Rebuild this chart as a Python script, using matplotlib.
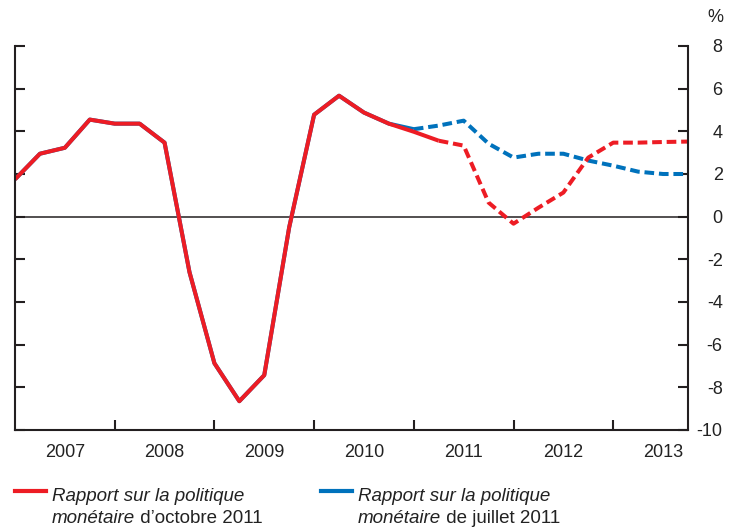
import matplotlib
matplotlib.use("Agg")
import matplotlib.pyplot as plt
from matplotlib.ticker import FixedLocator, NullFormatter, FixedFormatter

plt.rcParams['font.family'] = ['Liberation Sans', 'DejaVu Sans']
plt.rcParams['axes.unicode_minus'] = False

# quarterly, 2007Q1 .. 2013Q4 (index 0..27)
years = ['2007', '2008', '2009', '2010', '2011', '2012', '2013']
# Rapport d'octobre 2011 (actual up to 2011Q2, projection after)
oct_vals = [1.75, 2.95, 3.23, 4.55, 4.36, 4.36, 3.47, -2.6,
            -6.87, -8.65, -7.43, -0.5, 4.78, 5.67, 4.88, 4.36,
            3.98, 3.56, 3.33, 0.66, -0.33, 0.42, 1.13, 2.77,
            3.47, 3.47, 3.5, 3.52]
oct_last_actual = 17
# Rapport de juillet 2011 (actual up to 2011Q1, projection after)
jul_vals = [1.75, 2.95, 3.23, 4.55, 4.36, 4.36, 3.47, -2.6,
            -6.87, -8.65, -7.43, -0.5, 4.78, 5.67, 4.88, 4.36,
            4.1, 4.27, 4.5, 3.42, 2.77, 2.95, 2.95, 2.63,
            2.39, 2.11, 2.0, 2.0]
jul_last_actual = 16
yticks = [-10, -8, -6, -4, -2, 0, 2, 4, 6, 8]

red = '#ED1C24'
blue = '#0072BC'
dark = '#231F20'
txt = '#222222'

fig = plt.figure(figsize=(7.33, 5.29), dpi=100)
ax = fig.add_axes([15/733, 1-430/529, (688-15)/733, (430-46)/529])

x = list(range(len(oct_vals)))
lw = 2.9
dash = (2.4, 1.2)

# july: solid history then dashed projection
ax.plot(x[:jul_last_actual+1], jul_vals[:jul_last_actual+1], color=blue, lw=lw, solid_capstyle='butt')
ax.plot(x[jul_last_actual:], jul_vals[jul_last_actual:], color=blue, lw=lw, dashes=dash)
# october on top
ax.plot(x[:oct_last_actual+1], oct_vals[:oct_last_actual+1], color=red, lw=lw, solid_capstyle='butt')
ax.plot(x[oct_last_actual:], oct_vals[oct_last_actual:], color=red, lw=lw, dashes=dash)

ax.axhline(0, color=dark, lw=1.1, zorder=1)

ax.set_xlim(0, 27)
ax.set_ylim(-10, 8)

for s in ['left', 'right', 'bottom']:
    ax.spines[s].set_linewidth(1.5)
    ax.spines[s].set_color(dark)
ax.spines['top'].set_visible(False)

# x: year boundaries as ticks, labels centred in each year
ax.xaxis.set_major_locator(FixedLocator([4, 8, 12, 16, 20, 24]))
ax.xaxis.set_major_formatter(NullFormatter())
ax.xaxis.set_minor_locator(FixedLocator([2, 6, 10, 14, 18, 22, 26]))
ax.xaxis.set_minor_formatter(FixedFormatter(years))
ax.tick_params(axis='x', which='major', direction='in', length=7, width=1.5, color=dark)
ax.tick_params(axis='x', which='minor', length=0, pad=10, labelsize=13, labelcolor=txt)

ax.set_yticks(yticks)
ax.yaxis.tick_right()
ax.tick_params(axis='y', left=True, right=True, labelleft=False, labelright=True,
               direction='in', length=7, width=1.5, color=dark, pad=25,
               labelsize=13, labelcolor=txt)
for lab in ax.yaxis.get_majorticklabels():
    lab.set_horizontalalignment('right')

fig.text(723/733, 1-18/529, '%', ha='right', va='center', fontsize=13, color=txt)

# legend drawn by hand below the plot
def legend_item(x0, color, tail):
    fig.add_artist(plt.Line2D([x0/733, (x0+31)/733], [1-491/529, 1-491/529],
                              color=color, lw=3.0, transform=fig.transFigure))
    fig.text((x0+37)/733, 1-501/529, 'Rapport sur la politique', style='italic',
             fontsize=13.5, va='baseline', ha='left', color=txt)
    t = fig.text((x0+37)/733, 1-523/529, 'monétaire', style='italic',
                 fontsize=13.5, va='baseline', ha='left', color=txt)
    fig.add_artist(matplotlib.text.Annotation(tail, xy=(1, 0), xycoords=t,
                                              va='bottom', ha='left', fontsize=13.5,
                                              color=txt))

legend_item(15, red, ' d\u2019octobre 2011')
legend_item(321, blue, ' de juillet 2011')

fig.savefig('out.png', dpi=100)
